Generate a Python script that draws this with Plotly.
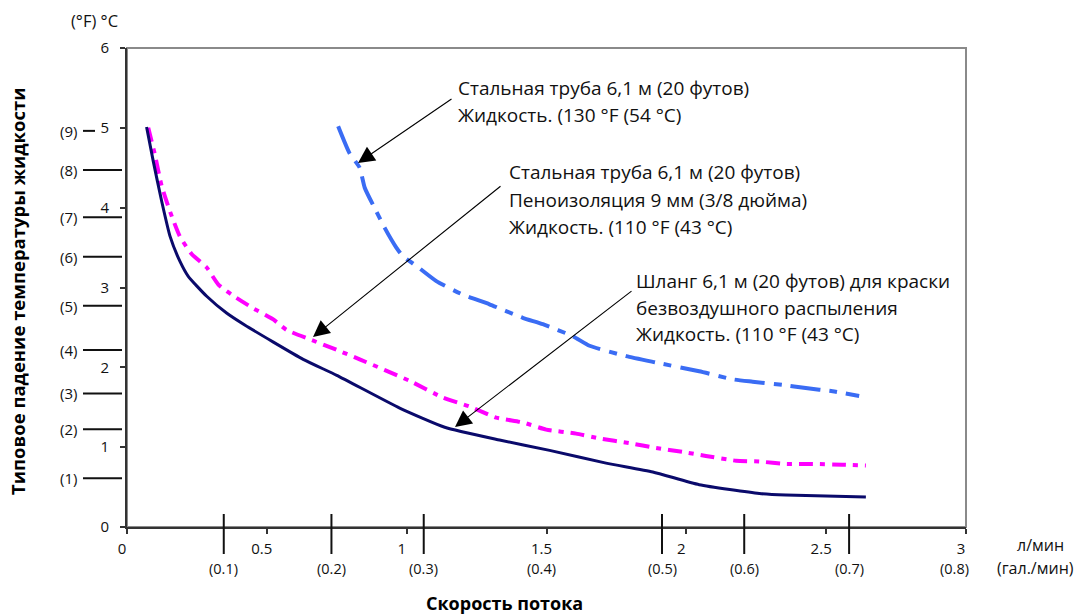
import plotly.graph_objects as go

# ---------------- data ----------------
# Flow rate (l/min) and typical fluid temperature drop (°C)
hose_x = [0.070, 0.094, 0.124, 0.154, 0.189, 0.219, 0.285, 0.356, 0.421, 0.630, 0.750,
          0.975, 1.136, 1.332, 1.511, 1.713, 1.880, 2.046, 2.261, 2.356, 2.642]
hose_y = [5.01, 4.58, 4.08, 3.64, 3.33, 3.14, 2.89, 2.68, 2.53, 2.10, 1.90,
          1.49, 1.25, 1.09, 0.96, 0.80, 0.69, 0.53, 0.42, 0.40, 0.375]

foam_x = [0.076, 0.100, 0.124, 0.154, 0.189, 0.231, 0.285, 0.326, 0.374, 0.451, 0.523,
          0.570, 0.654, 0.749, 0.832, 1.011, 1.130, 1.225, 1.320, 1.415, 1.499, 1.606,
          1.689, 1.796, 1.892, 1.987, 2.070, 2.178, 2.261, 2.356, 2.451, 2.558, 2.642]
foam_y = [5.00, 4.66, 4.27, 3.95, 3.64, 3.42, 3.25, 3.04, 2.91, 2.74, 2.60,
          2.47, 2.35, 2.22, 2.10, 1.83, 1.62, 1.51, 1.37, 1.31, 1.22, 1.17,
          1.11, 1.05, 0.99, 0.94, 0.89, 0.83, 0.82, 0.79, 0.79, 0.78, 0.77]

steel_x = [0.755, 0.796, 0.832, 0.850, 0.892, 0.921, 0.963, 0.987, 1.035, 1.106, 1.201,
           1.296, 1.415, 1.487, 1.594, 1.654, 1.785, 1.892, 2.046, 2.165, 2.237, 2.344,
           2.427, 2.523, 2.618]
steel_y = [5.02, 4.68, 4.50, 4.25, 3.95, 3.75, 3.50, 3.39, 3.27, 3.08, 2.91,
           2.79, 2.62, 2.54, 2.39, 2.27, 2.14, 2.06, 1.95, 1.85, 1.82, 1.78,
           1.74, 1.70, 1.64]

# main axis ticks
x_ticks = [0, 0.5, 1, 1.5, 2, 2.5, 3]
x_tick_text = ["0", "0.5", "1", "1.5", "2", "2.5", "3"]
y_ticks = [0, 1, 2, 3, 4, 5, 6]

# secondary scales (gal/min and °F) as drawn in the chart
gal_labels = ["(0.1)", "(0.2)", "(0.3)", "(0.4)", "(0.5)", "(0.6)", "(0.7)", "(0.8)"]
gal_pos = [0.346, 0.731, 1.061, 1.481, 1.913, 2.207, 2.582, 2.960]
gal_has_tick = [True, True, True, False, True, True, True, False]

f_labels = ["(1)", "(2)", "(3)", "(4)", "(5)", "(6)", "(7)", "(8)", "(9)"]
f_pos = [0.611, 1.224, 1.673, 2.218, 2.770, 3.385, 3.879, 4.472, 4.962]

# callouts
callout1 = ["Стальная труба 6,1 м (20 футов)", "Жидкость. (130 °F (54 °C)"]
callout2 = ["Стальная труба 6,1 м (20 футов)", "Пеноизоляция 9 мм (3/8 дюйма)",
            "Жидкость. (110 °F (43 °C)"]
callout3 = ["Шланг 6,1 м (20 футов) для краски", "безвоздушного распыления",
            "Жидкость. (110 °F (43 °C)"]

y_title = "Типовое падение температуры жидкости"
x_title = "Скорость потока"

# ---------------- figure ----------------
FONT = "Open Sans"
W, H = 1075, 614
ML, MR, MT, MB = 127, 109, 48, 87
PW, PH = W - ML - MR, H - MT - MB


def px_x(p):  # pixel -> paper x
    return (p - ML) / PW


def px_y(p):  # pixel -> paper y
    return (H - MB - p) / PH


def data_x(p):
    return (p - ML) * 3 / PW


def data_y(p):
    return (H - MB - p) * 6 / PH


fig = go.Figure()

fig.add_trace(go.Scatter(x=steel_x, y=steel_y, mode="lines",
                         line=dict(color="#3a6cf4", width=4, dash="30px,9px,8px,9px",
                                   shape="spline", smoothing=0.5),
                         showlegend=False, hoverinfo="skip"))
fig.add_trace(go.Scatter(x=foam_x, y=foam_y, mode="lines",
                         line=dict(color="#ff00ff", width=4, dash="14px,7px,5px,7px",
                                   shape="spline", smoothing=0.5),
                         showlegend=False, hoverinfo="skip"))
fig.add_trace(go.Scatter(x=hose_x, y=hose_y, mode="lines",
                         line=dict(color="#0a0a6b", width=3, shape="spline", smoothing=0.5),
                         showlegend=False, hoverinfo="skip"))

shapes = []
# gray frame (top/right)
shapes.append(dict(type="rect", xref="paper", yref="paper", x0=0, x1=1, y0=0, y1=1,
                   line=dict(color="#8a8a8a", width=2), layer="below"))
# gal/min tick lines
for pos, has in zip(gal_pos, gal_has_tick):
    if has:
        shapes.append(dict(type="line", xref="x", yref="paper", x0=pos, x1=pos,
                           y0=px_y(514), y1=px_y(554),
                           line=dict(color="#111", width=2)))
# °F tick lines
for i, pos in enumerate(f_pos):
    x0 = px_x(83)
    x1 = px_x(95) if i == len(f_pos) - 1 else px_x(122)
    shapes.append(dict(type="line", xref="paper", yref="y", x0=x0, x1=x1,
                       y0=pos, y1=pos, line=dict(color="#111", width=2)))

ann = []
for lab, pos in zip(gal_labels, gal_pos):
    ann.append(dict(text=lab, xref="x", yref="paper", x=pos, y=px_y(568),
                    showarrow=False, xanchor="center", yanchor="middle",
                    font=dict(size=14.5, color="#111", family=FONT)))
for lab, pos in zip(f_labels, f_pos):
    ann.append(dict(text=lab, xref="paper", yref="y", x=px_x(79), y=pos,
                    showarrow=False, xanchor="right", yanchor="middle",
                    font=dict(size=15, color="#111", family=FONT)))

for lines, left, ys in [(callout1, 459, [88, 115]),
                        (callout2, 510, [172, 200, 227]),
                        (callout3, 637, [281, 308, 334])]:
    for t, yy in zip(lines, ys):
        ann.append(dict(text=t, xref="x", yref="y", x=data_x(left - 3), y=data_y(yy),
                        showarrow=False, xanchor="left", yanchor="middle",
                        font=dict(size=19, color="#111", family=FONT)))

# arrows (tail -> tip)
for (tx, ty), (hx, hy) in [((453, 98), (358, 163)),
                           ((502, 185), (313, 337)),
                           ((633, 290), (455, 427))]:
    ann.append(dict(text="", xref="x", yref="y", x=data_x(hx), y=data_y(hy),
                    axref="x", ayref="y", ax=data_x(tx), ay=data_y(ty),
                    showarrow=True, arrowhead=2, arrowsize=3, arrowwidth=1.1,
                    arrowcolor="#000", standoff=0))

# titles / unit labels
ann.append(dict(text="<b>" + y_title + "</b>", xref="paper", yref="paper",
                x=px_x(17), y=px_y(291), textangle=-90, showarrow=False,
                xanchor="center", yanchor="middle",
                font=dict(size=18.5, color="#000", family=FONT)))
ann.append(dict(text="<b>" + x_title + "</b>", xref="paper", yref="paper",
                x=px_x(504), y=px_y(603), showarrow=False,
                xanchor="center", yanchor="middle",
                font=dict(size=18, color="#000", family=FONT)))
ann.append(dict(text="(°F) °C", xref="paper", yref="paper",
                x=px_x(94), y=px_y(20), showarrow=False,
                xanchor="center", yanchor="middle",
                font=dict(size=16.5, color="#111", family=FONT)))
ann.append(dict(text="л/мин", xref="paper", yref="paper",
                x=px_x(1040), y=px_y(545), showarrow=False,
                xanchor="center", yanchor="middle",
                font=dict(size=16, color="#111", family=FONT)))
ann.append(dict(text="(гал./мин)", xref="paper", yref="paper",
                x=px_x(1035), y=px_y(568), showarrow=False,
                xanchor="center", yanchor="middle",
                font=dict(size=16, color="#111", family=FONT)))

fig.update_layout(
    width=W, height=H,
    margin=dict(l=ML, r=MR, t=MT, b=MB, autoexpand=False),
    paper_bgcolor="white", plot_bgcolor="white",
    font=dict(family=FONT, size=14, color="#111"),
    shapes=shapes, annotations=ann,
    xaxis=dict(range=[0, 3], tickvals=x_ticks, ticktext=x_tick_text,
               showgrid=False, zeroline=False, showline=True, linecolor="#333",
               linewidth=2, ticks="outside", ticklen=5, tickwidth=1.5,
               tickcolor="#333", ticklabelshift=-5, ticklabelstandoff=2,
               tickfont=dict(size=15, color="#111", family=FONT), fixedrange=True),
    yaxis=dict(range=[0, 6], tickvals=y_ticks, showgrid=False, zeroline=False,
               showline=True, linecolor="#333", linewidth=2, ticks="outside",
               ticklen=5, tickwidth=1.5, tickcolor="#333", ticklabelstandoff=8,
               tickfont=dict(size=15, color="#111", family=FONT), fixedrange=True),
)

fig.write_html("out.html", config={"displayModeBar": False},
               post_script="document.body.style.margin='0';")
